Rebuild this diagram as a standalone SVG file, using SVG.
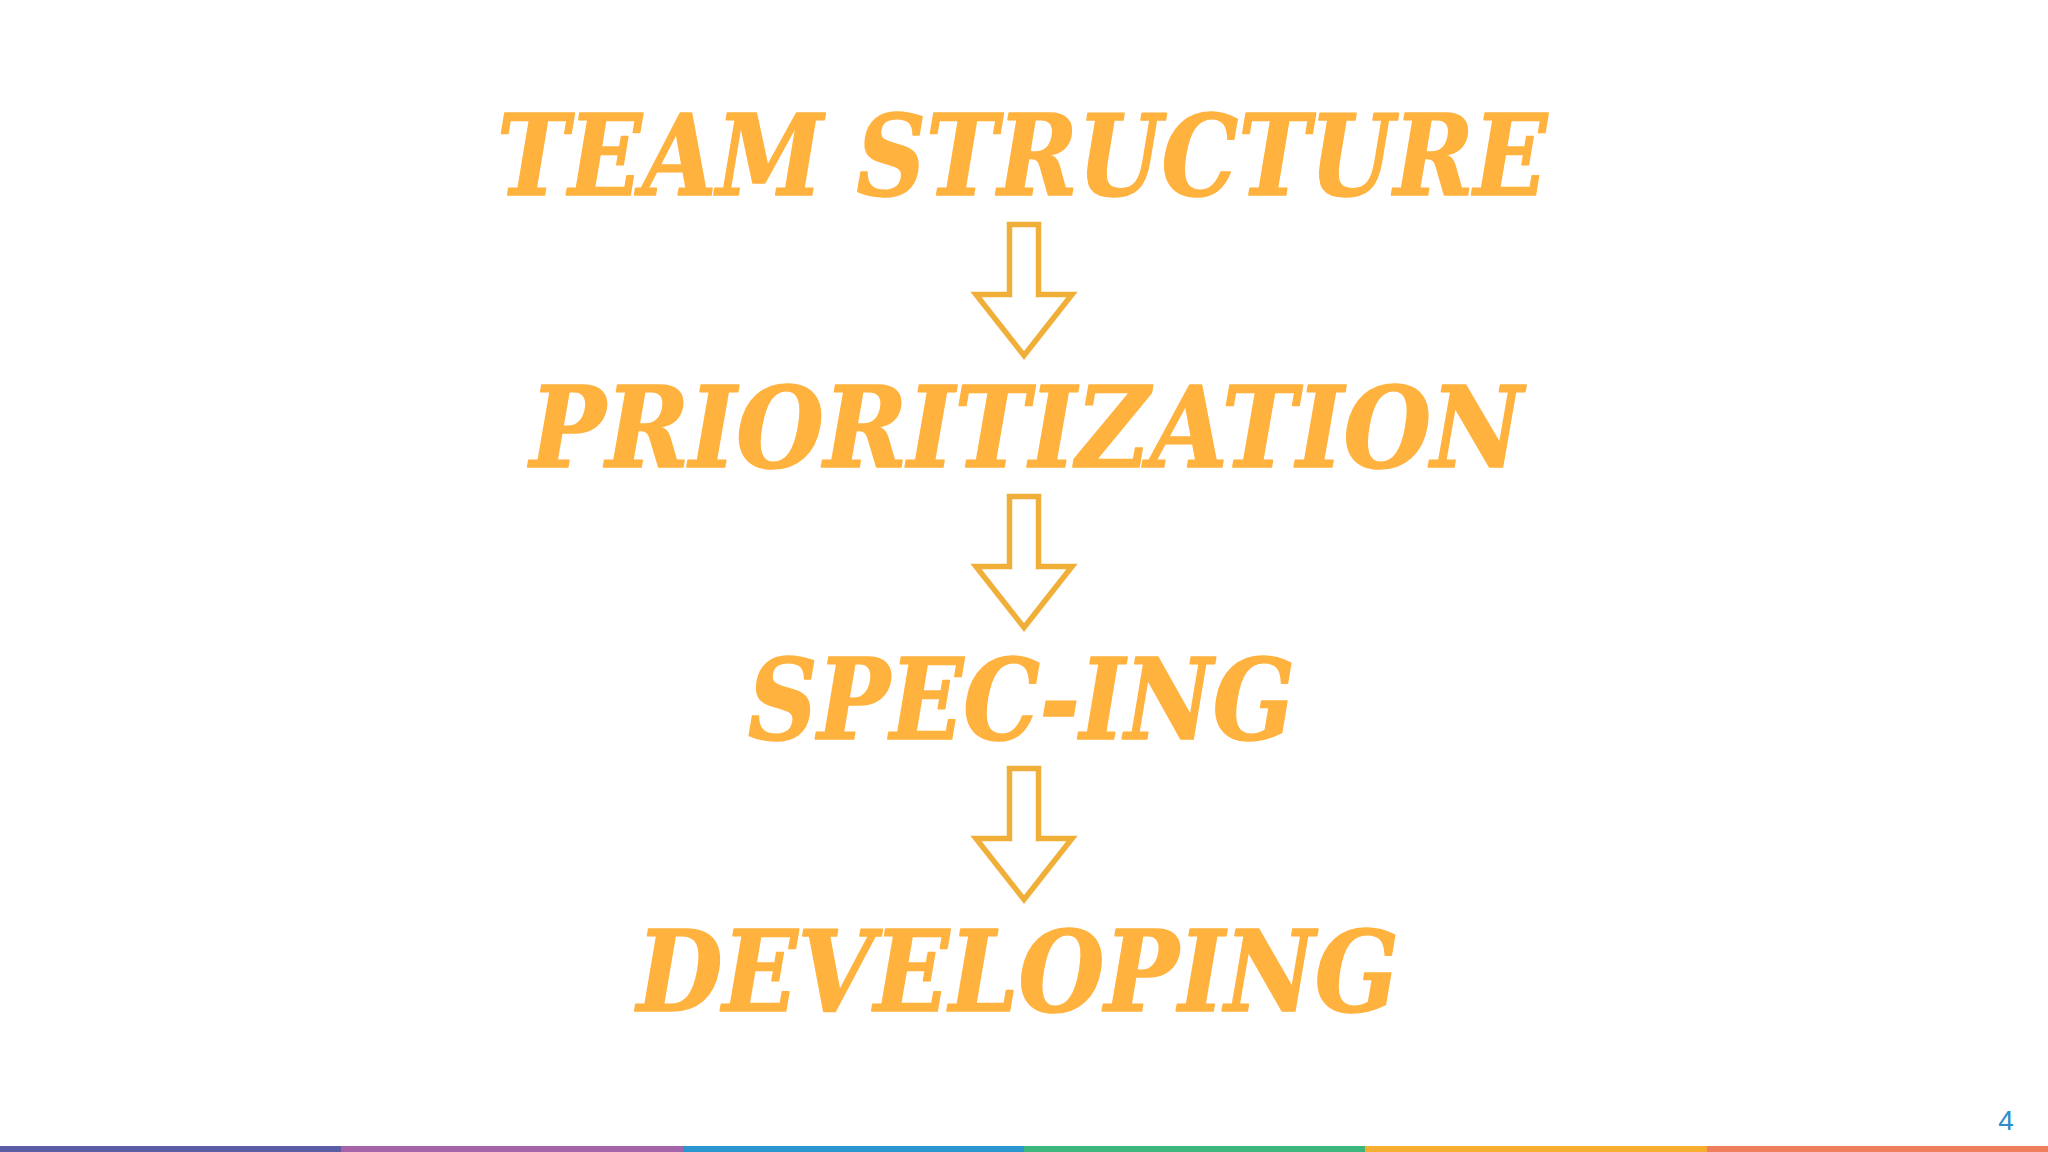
<svg xmlns="http://www.w3.org/2000/svg" width="2048" height="1152" viewBox="0 0 2048 1152">
<style>
.t{font-family:"DejaVu Serif Condensed","DejaVu Serif","Liberation Serif",serif;font-weight:bold;font-style:italic;font-size:112px;fill:#FFB23E;stroke:#FFB23E;stroke-width:1.5;stroke-linejoin:round}
.a{fill:#FFFFFF;stroke:#F0AF38;stroke-width:5.5;stroke-linejoin:miter}
.pg{font-family:"Liberation Sans",Arial,sans-serif;font-size:28px;fill:#2E8CC9}
</style>
<defs>
<path id="arrow" d="M1009.5 0 H1038.5 V70 H1072 L1024 131 L976 70 H1009.5 Z"/>
</defs>
<rect width="2048" height="1152" fill="#FFFFFF"/>
<g id="node-team-structure"><text class="t" x="497" y="195" textLength="1050" lengthAdjust="spacingAndGlyphs">TEAM STRUCTURE</text></g>
<g id="node-prioritization"><text class="t" x="530" y="467" textLength="993" lengthAdjust="spacingAndGlyphs">PRIORITIZATION</text></g>
<g id="node-spec-ing"><text class="t" x="748" y="739" textLength="547" lengthAdjust="spacingAndGlyphs">SPEC-ING</text></g>
<g id="node-developing"><text class="t" x="637" y="1011" textLength="762" lengthAdjust="spacingAndGlyphs">DEVELOPING</text></g>
<g id="connectors">
<use href="#arrow" class="a" x="0" y="224.5"/>
<use href="#arrow" class="a" x="0" y="496.5"/>
<use href="#arrow" class="a" x="0" y="768.5"/>
</g>
<g id="footer">
<rect x="0" y="1146" width="342" height="6" fill="#5A5CA5"/>
<rect x="341" y="1146" width="342" height="6" fill="#A564A9"/>
<rect x="683" y="1146" width="342" height="6" fill="#2B95D0"/>
<rect x="1024" y="1146" width="342" height="6" fill="#3CB67B"/>
<rect x="1365" y="1146" width="342" height="6" fill="#F6AE30"/>
<rect x="1707" y="1146" width="341" height="6" fill="#EF7F5C"/>
<text class="pg" x="2006" y="1130" text-anchor="middle">4</text>
</g>
</svg>
